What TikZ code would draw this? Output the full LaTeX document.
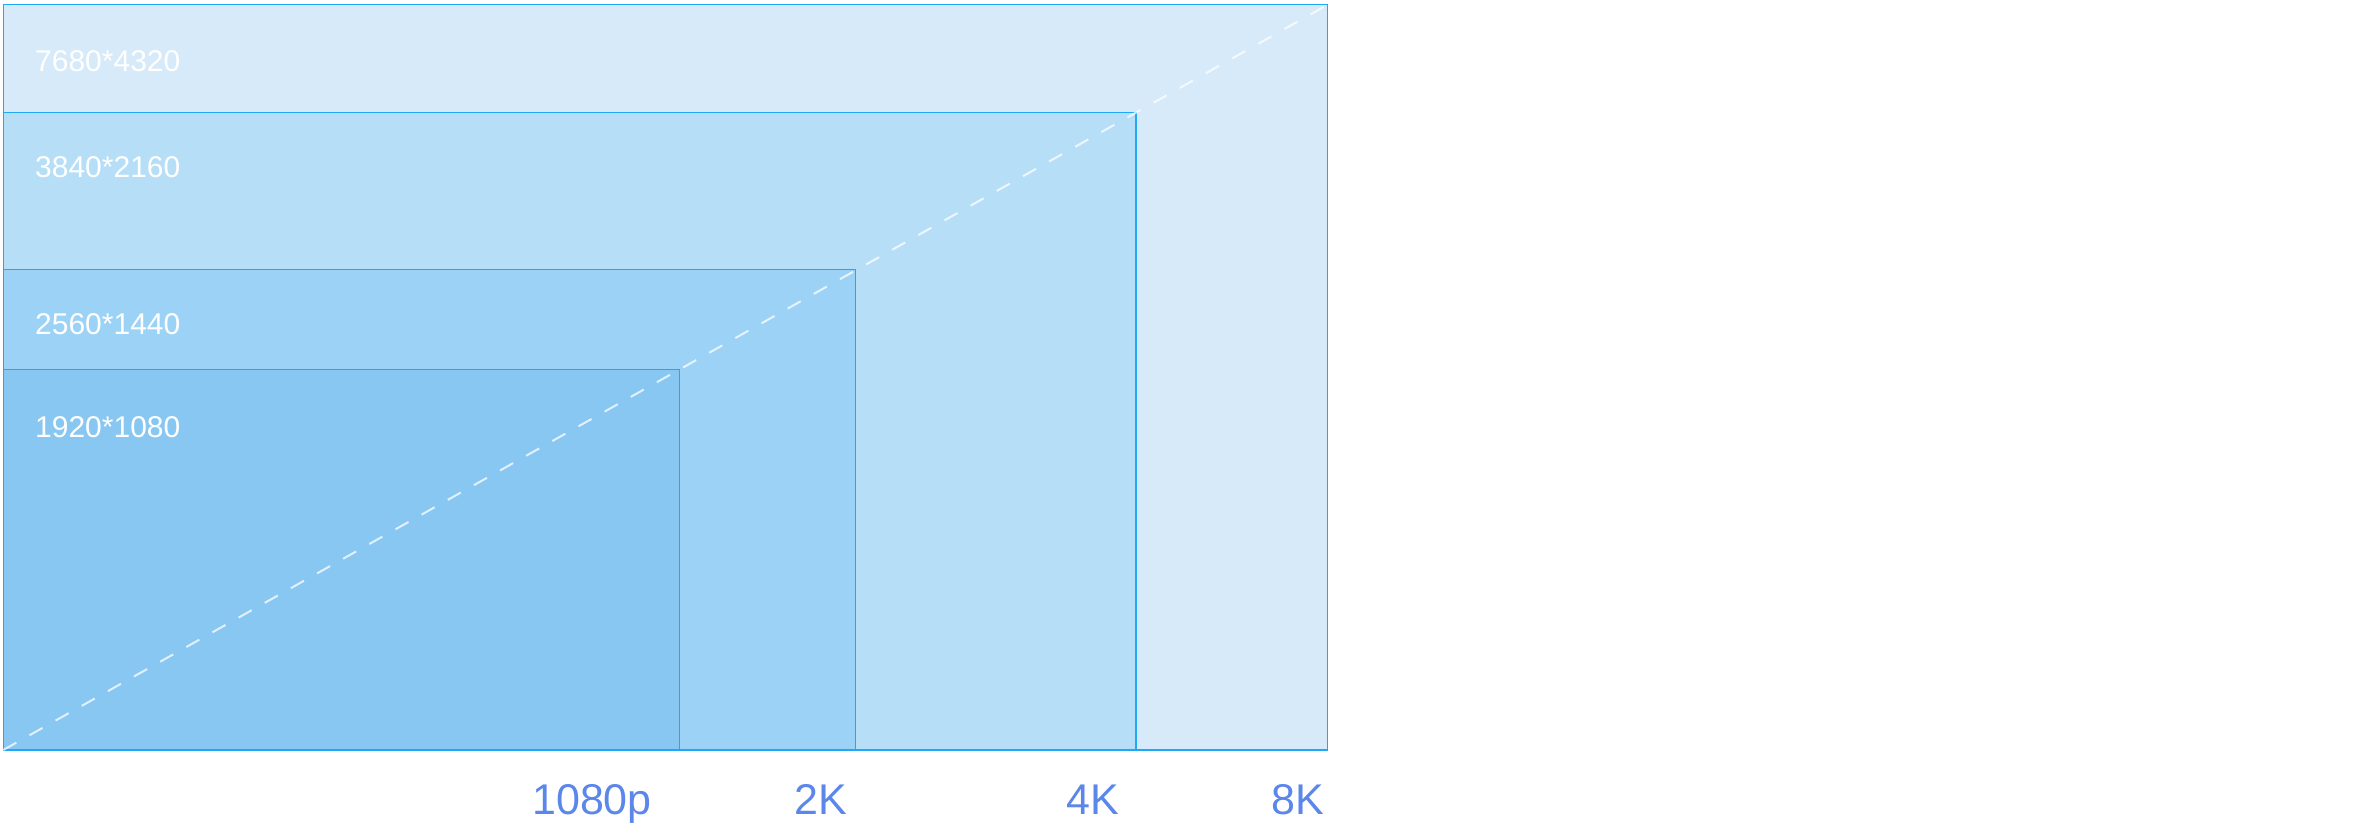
\documentclass[tikz,border=0pt]{standalone}
\usepackage{fontspec}
\setmainfont{Liberation Sans}
\definecolor{fillA}{HTML}{D6EAF9}
\definecolor{fillB}{HTML}{B6DEF7}
\definecolor{fillC}{HTML}{9CD2F5}
\definecolor{fillD}{HTML}{88C7F2}
\definecolor{edgeblue}{HTML}{1EA8F6}
\definecolor{labblue}{HTML}{5B86EA}
\begin{document}
\begin{tikzpicture}[x=1pt,y=-1pt,
  resbox/.style={draw=edgeblue,line width=1.5pt,inner sep=0pt,outer sep=0pt,anchor=south west},
  reslabel/.style={text=white,font=\fontsize{30}{30}\selectfont,inner sep=0pt,anchor=base west},
  axislabel/.style={text=labblue,font=\fontsize{43}{43}\selectfont,inner sep=0pt,anchor=base west},
  diag/.style={white,opacity=0.75,line width=2pt,dash pattern=on 15pt off 15pt}]
\useasboundingbox (0,0) rectangle (2368,840);
\node[resbox,fill=fillA,minimum width=1324.4pt,minimum height=745.3pt] (r8k) at (3.3,750) {};
\node[resbox,fill=fillB,minimum width=1132.7pt,minimum height=637.7pt] (r4k) at (3.3,750) {};
\node[resbox,fill=fillC,minimum width=852.4pt,minimum height=480.5pt] (r2k) at (3.3,750) {};
\node[resbox,fill=fillD,minimum width=676pt,minimum height=380.5pt] (r1080) at (3.3,750) {};
\draw[diag] (r1080.south west) -- (r8k.north east);
\node[reslabel] (l8k) at (35,71.7) {7680*4320};
\node[reslabel] (l4k) at (35,177.3) {3840*2160};
\node[reslabel] (l2k) at (35,334) {2560*1440};
\node[reslabel] (l1080) at (35,437.7) {1920*1080};
\node[axislabel] (a1080) at (532,814) {1080p};
\node[axislabel] (a2k) at (794,814) {2K};
\node[axislabel] (a4k) at (1066,814) {4K};
\node[axislabel] (a8k) at (1271,814) {8K};
\end{tikzpicture}
\end{document}
